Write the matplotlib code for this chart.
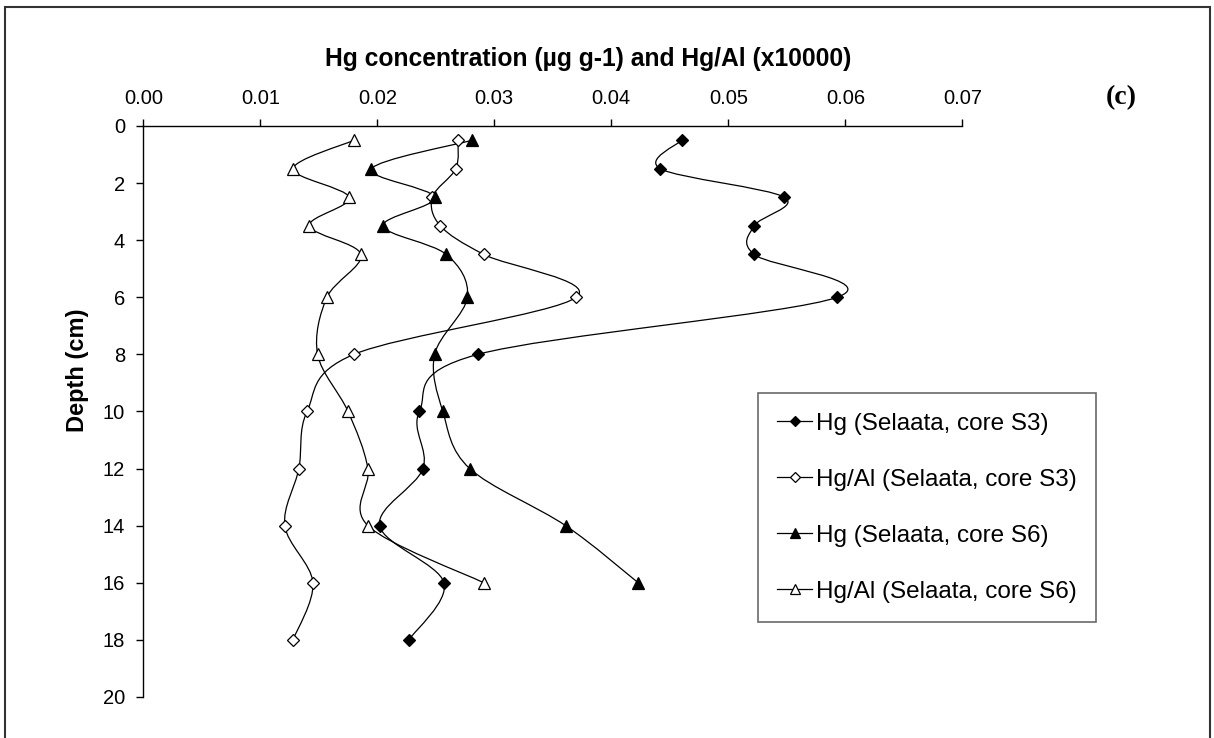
import numpy as np
import matplotlib
matplotlib.use("Agg")
import matplotlib.pyplot as plt
from matplotlib.path import Path
from matplotlib.patches import PathPatch, Rectangle
from matplotlib.lines import Line2D

plt.rcParams['font.family'] = ['Liberation Sans', 'DejaVu Sans']

# depth of each slice (cm)
depth_s3 = [0.5, 1.5, 2.5, 3.5, 4.5, 6, 8, 10, 12, 14, 16, 18]
depth_s6 = [0.5, 1.5, 2.5, 3.5, 4.5, 6, 8, 10, 12, 14, 16]

# Hg (ug/g) and Hg/Al (x10000), Selaata cores
hg_s3 = [0.0460, 0.0442, 0.0548, 0.0522, 0.0522, 0.0593, 0.0286, 0.0236, 0.0239, 0.0202, 0.0257, 0.0227]
hgal_s3 = [0.0269, 0.0267, 0.0247, 0.0254, 0.0291, 0.0370, 0.0180, 0.0140, 0.0133, 0.0121, 0.0145, 0.0128]
hg_s6 = [0.0281, 0.0195, 0.0249, 0.0205, 0.0259, 0.0277, 0.0249, 0.0256, 0.0279, 0.0361, 0.0423]
hgal_s6 = [0.0180, 0.0128, 0.0176, 0.0142, 0.0186, 0.0157, 0.0149, 0.0175, 0.0192, 0.0192, 0.0291]

labels = ["Hg (Selaata, core S3)", "Hg/Al (Selaata, core S3)",
          "Hg (Selaata, core S6)", "Hg/Al (Selaata, core S6)"]


def smooth_path(x, y):
    # spreadsheet-style smoothed line: cubic bezier through every point
    n = len(x)
    verts = [(x[0], y[0])]
    codes = [Path.MOVETO]
    for i in range(n - 1):
        i0 = max(i - 1, 0)
        i3 = min(i + 2, n - 1)
        c1 = (x[i] + (x[i + 1] - x[i0]) / 6, y[i] + (y[i + 1] - y[i0]) / 6)
        c2 = (x[i + 1] - (x[i3] - x[i]) / 6, y[i + 1] - (y[i3] - y[i]) / 6)
        verts += [c1, c2, (x[i + 1], y[i + 1])]
        codes += [Path.CURVE4] * 3
    return Path(verts, codes)


fig = plt.figure(figsize=(12.14, 7.38), dpi=100)
ax = fig.add_axes([0.118, 0.0556, 0.6747, 0.7737])

series = [
    (hg_s3, depth_s3, 'D', 'black', 6.5),
    (hgal_s3, depth_s3, 'D', 'white', 6.5),
    (hg_s6, depth_s6, '^', 'black', 8.5),
    (hgal_s6, depth_s6, '^', 'white', 8.5),
]

handles = []
for (xv, yv, mk, fc, ms), lab in zip(series, labels):
    ax.add_patch(PathPatch(smooth_path(xv, yv), fill=False, edgecolor='black', lw=0.9, zorder=2))
    ax.plot(xv, yv, linestyle='none', marker=mk, ms=ms, mfc=fc, mec='black', mew=0.9, zorder=3)
    handles.append(Line2D([], [], color='black', lw=0.9, marker=mk, ms=ms * 0.8,
                          mfc=fc, mec='black', mew=0.9, label=lab))

ax.set_xlim(0, 0.07)
ax.set_ylim(20, 0)
ax.set_xticks(np.arange(0, 0.0701, 0.01))
ax.set_xticklabels(["%.2f" % v for v in np.arange(0, 0.0701, 0.01)])
ax.set_yticks(range(0, 21, 2))

ax.xaxis.tick_top()
ax.spines['right'].set_visible(False)
ax.spines['bottom'].set_visible(False)
for s in ['top', 'left']:
    ax.spines[s].set_linewidth(1.0)
ax.tick_params(direction='out', length=5, width=1.0, labelsize=14.5, pad=8)

ax.set_xlabel("Hg concentration (µg g-1) and Hg/Al (x10000)", fontsize=17.7, fontweight='bold')
ax.xaxis.set_label_position('top')
ax.xaxis.set_label_coords(0.543, 1.105)
ax.set_ylabel("Depth (cm)", fontsize=17, fontweight='bold')
ax.yaxis.set_label_coords(-0.066, 0.573)

fig.text(1121.7 / 1214, 1 - 98 / 738, "(c)", fontsize=20, fontweight='bold',
         family='Liberation Serif', ha='center', va='center')

leg = ax.legend(handles=handles, loc='upper left', bbox_to_anchor=(757.7 / 1214, 1 - 393.3 / 738),
                bbox_transform=fig.transFigure, fontsize=17.5, frameon=True, fancybox=False,
                handlelength=1.45, handletextpad=0.15, labelspacing=1.4, borderpad=0.8,
                borderaxespad=0)
leg.get_frame().set_edgecolor('#444444')
leg.get_frame().set_linewidth(1.2)

# outer frame around the whole figure
fig.patches.append(Rectangle((5 / 1214, -0.05), 1205 / 1214, 1.05 - 7 / 738, transform=fig.transFigure,
                             fill=False, edgecolor='#333333', lw=1.5))

fig.savefig("out.png", dpi=100)
